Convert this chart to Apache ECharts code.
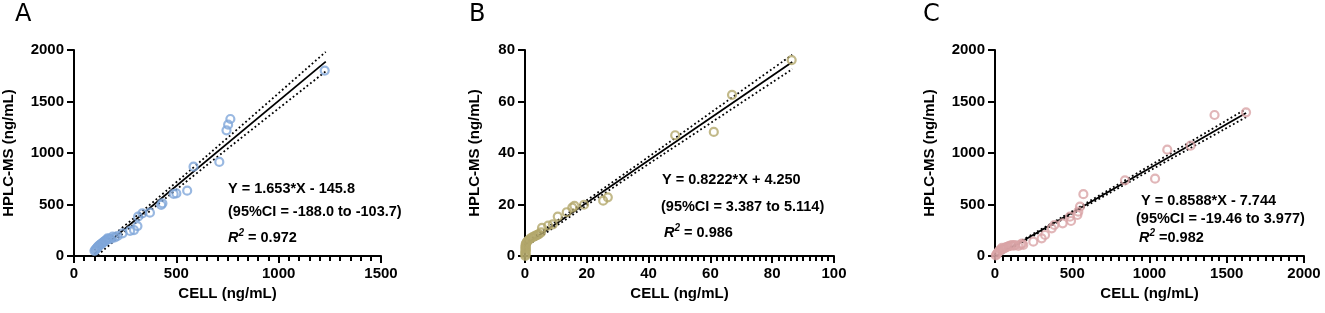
<!DOCTYPE html>
<html>
<head>
<meta charset="utf-8">
<script src="https://cdn.jsdelivr.net/npm/echarts@6/dist/echarts.min.js"></script>
<style>
  html, body { margin: 0; padding: 0; background: #fff; }
  #chart { width: 1325px; height: 313px; }
</style>
</head>
<body>
<div id="chart"></div>
<script>
// panel A - [CELL, HPLC-MS]
const pointsA = [
  [100, 50], [104, 60], [108, 70], [112, 78], [116, 88], [120, 95], [125, 105], [130, 112],
  [135, 120], [140, 128], [145, 138], [150, 145], [155, 150], [160, 160], [164, 172],
  [172, 168], [180, 165], [189, 188], [200, 180], [213, 194], [237, 220], [274, 243],
  [293, 252], [310, 291], [313, 382], [334, 414], [371, 421], [426, 495], [432, 511],
  [487, 602], [500, 608], [553, 634], [584, 867], [710, 913], [745, 1220], [753, 1275],
  [764, 1330], [1225, 1800]
]
const fitA = { slope: 1.653, intercept: -145.8, xFrom: 100, xTo: 1230 }
const bandAx = [100, 300, 500, 800, 1230]
const bandAhw = [38, 30, 36, 57, 95]

// panel B
const pointsB = [
  [0.1, 0], [0.2, 0.5], [0.1, 1], [0.2, 1.5], [0.1, 2], [0.3, 2.5], [0.2, 3], [0.1, 3.5],
  [0.3, 4], [0.2, 4.5], [0.4, 5], [0.6, 5.5], [1, 6], [1.5, 6.5], [2, 7], [2.5, 7.3],
  [3, 7.6], [3.5, 7.9], [4, 8.2], [4.5, 8.5], [5.2, 9.2], [5.5, 10.9], [7.5, 11.8],
  [9, 12.3], [10.6, 15.3], [13.5, 17], [15.3, 18.8], [16, 19.5], [19.1, 19.9],
  [25.3, 21.5], [26.8, 22.8], [48.6, 46.9], [61.1, 48.2], [67, 62.6], [86.3, 76.1]
]
const fitB = { slope: 0.8222, intercept: 4.25, xFrom: 0, xTo: 86.5 }
const bandBx = [0, 6, 30, 60, 86.5]
const bandBhw = [0.86, 0.84, 1.15, 1.98, 2.8]

// panel C
const pointsC = [
  [5, 5], [10, 15], [15, 25], [20, 35], [25, 45], [30, 55], [40, 65], [45, 80], [50, 70],
  [60, 75], [70, 85], [80, 90], [90, 95], [100, 100], [110, 105], [120, 100], [130, 105],
  [151, 97], [165, 110], [175, 120], [183, 107], [248, 139], [302, 172], [324, 204],
  [367, 269], [384, 301], [438, 317], [485, 382], [492, 340], [533, 398], [539, 430],
  [550, 479], [572, 600], [841, 735], [1036, 751], [1115, 1032], [1266, 1071],
  [1421, 1369], [1625, 1395]
]
const fitC = { slope: 0.8588, intercept: -7.744, xFrom: 0, xTo: 1625 }
const bandCx = [0, 200, 500, 1000, 1625]
const bandChw = [11.7, 10.4, 13.2, 24, 40]

const xMax = [1500, 100, 2000]
const xInterval = [500, 20, 500]
const yMax = [2000, 80, 2000]
const yInterval = [500, 20, 500]
const colors = ['#7fa6da', '#b3a86b', '#d9a4a6']

const FONT = 'Liberation Sans, Arial, sans-serif'
const chart = echarts.init(document.getElementById('chart'))

const grids = [
  { left: 71, top: 50, width: 310, height: 206 },
  { left: 525, top: 50, width: 309, height: 206 },
  { left: 995, top: 50, width: 309, height: 206 }
]
const yNameGap = [58, 43, 58]

function axisCommon() {
  return {
    axisLine: { onZero: false, lineStyle: { color: '#000', width: 2 } },
    axisTick: { show: true, length: 7, lineStyle: { color: '#000', width: 2 } },
    splitLine: { show: false },
    axisLabel: {
      color: '#000', fontWeight: 'bold', fontSize: 15, fontFamily: FONT, margin: 10,
      formatter: v => String(v)
    },
    nameLocation: 'middle',
    nameTextStyle: { color: '#000', fontWeight: 'bold', fontSize: 15, fontFamily: FONT }
  }
}

const xAxis = []
const yAxis = []
const series = []
const fits = [fitA, fitB, fitC]
const points = [pointsA, pointsB, pointsC]
const bandX = [bandAx, bandBx, bandCx]
const bandHw = [bandAhw, bandBhw, bandChw]

for (let i = 0; i < 3; i++) {
  xAxis.push(Object.assign(axisCommon(), {
    gridIndex: i, type: 'value', min: 0, max: xMax[i], interval: xInterval[i],
    name: 'CELL (ng/mL)', nameGap: 29,
    minorTick: { show: true, splitNumber: 10, length: 5, lineStyle: { color: '#000', width: 2 } }
  }))
  yAxis.push(Object.assign(axisCommon(), {
    gridIndex: i, type: 'value', min: 0, max: yMax[i], interval: yInterval[i],
    name: 'HPLC-MS (ng/mL)', nameGap: yNameGap[i]
  }))
  const f = fits[i]
  const lineY = x => f.slope * x + f.intercept
  // confidence bands
  const upper = bandX[i].map((x, k) => [x, lineY(x) + bandHw[i][k]])
  const lower = bandX[i].map((x, k) => [x, lineY(x) - bandHw[i][k]])
  ;[upper, lower].forEach(d => {
    series.push({
      type: 'line', xAxisIndex: i, yAxisIndex: i, data: d, smooth: 0.4,
      showSymbol: false, silent: true, z: 2,
      lineStyle: { color: '#000', width: 1.8, type: [1.8, 2.6] }
    })
  })
  series.push({
    type: 'line', xAxisIndex: i, yAxisIndex: i, showSymbol: false, silent: true, z: 3,
    data: [[f.xFrom, lineY(f.xFrom)], [f.xTo, lineY(f.xTo)]],
    lineStyle: { color: '#000', width: 1.8 }
  })
  series.push({
    type: 'scatter', xAxisIndex: i, yAxisIndex: i, data: points[i], z: 4,
    symbol: 'circle', symbolSize: 8,
    itemStyle: { color: 'rgba(255,255,255,0)', borderColor: colors[i], borderWidth: 2.2 }
  })
}

const txt = { color: '#000', fontWeight: 'bold', fontSize: 14.5, fontFamily: FONT }
const rich = {
  i: { fontStyle: 'italic', fontWeight: 'bold', fontSize: 14.5, fontFamily: FONT, color: '#000' },
  s: { fontStyle: 'italic', fontWeight: 'bold', fontSize: 10, fontFamily: FONT, color: '#000', padding: [0, 0, 9, 0] },
  b: { fontWeight: 'bold', fontSize: 14.5, fontFamily: FONT, color: '#000' }
}
const letter = { color: '#000', fontWeight: 'normal', fontSize: 24, fontFamily: 'DejaVu Sans, Noto Sans, sans-serif' }

chart.setOption({
  animation: false,
  grid: grids,
  xAxis: xAxis,
  yAxis: yAxis,
  title: [
    { text: 'A', left: 15, top: 3, padding: 0, textStyle: letter },
    { text: 'B', left: 469, top: 3, padding: 0, textStyle: letter },
    { text: 'C', left: 923, top: 3, padding: 0, textStyle: letter },
    { text: 'Y = 1.653*X - 145.8', left: 228, top: 181, padding: 0, textStyle: txt },
    { text: '(95%CI = -188.0 to -103.7)', left: 228, top: 204, padding: 0, textStyle: txt },
    { text: '{i|R}{s|2}{b| = 0.972}', left: 228, top: 228, padding: 0, textStyle: { rich: rich } },
    { text: 'Y = 0.8222*X + 4.250', left: 662, top: 172, padding: 0, textStyle: txt },
    { text: '(95%CI = 3.387 to 5.114)', left: 661, top: 199, padding: 0, textStyle: txt },
    { text: '{i|R}{s|2}{b| = 0.986}', left: 664, top: 223, padding: 0, textStyle: { rich: rich } },
    { text: 'Y = 0.8588*X - 7.744', left: 1141, top: 193, padding: 0, textStyle: txt },
    { text: '(95%CI = -19.46 to 3.977)', left: 1136, top: 211, padding: 0, textStyle: txt },
    { text: '{i|R}{s|2}{b| =0.982}', left: 1139, top: 228, padding: 0, textStyle: { rich: rich } }
  ],
  series: series
})
</script>
</body>
</html>
